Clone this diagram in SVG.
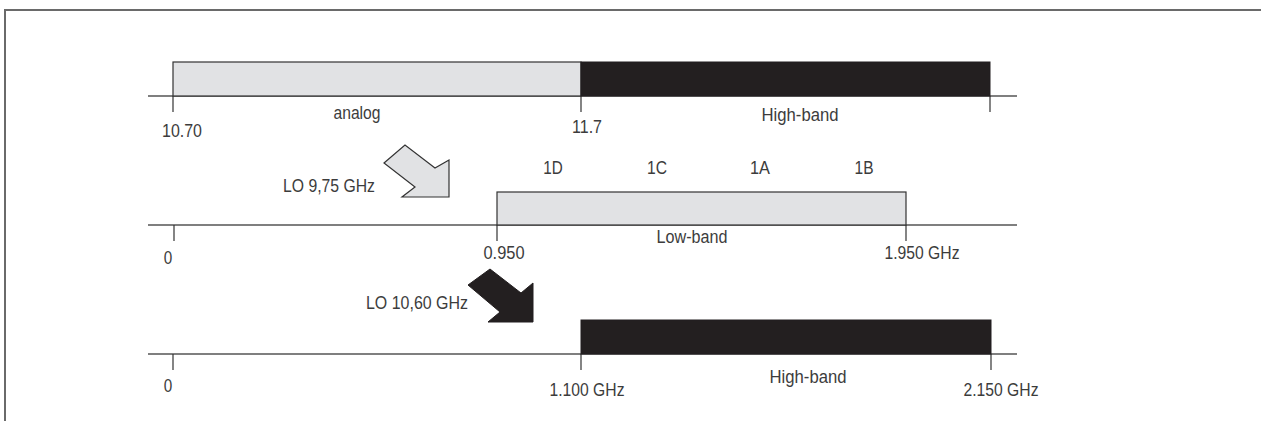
<svg xmlns="http://www.w3.org/2000/svg" width="1261" height="421" viewBox="0 0 1261 421">
  <style>
    text { font-family: "Liberation Sans", Arial, sans-serif; font-size: 17.5px; fill: #3c3c3c; text-anchor: middle; }
    .axis { stroke: #555; stroke-width: 1.5; fill: none; }
    .tick { stroke: #333; stroke-width: 1.2; fill: none; }
    .light { fill: #e1e2e4; stroke: #333; stroke-width: 1.2; }
    .dark { fill: #231f20; stroke: #231f20; stroke-width: 1; }
    .frame { stroke: #6a6a6a; stroke-width: 2; fill: none; }
  </style>
  <rect width="1261" height="421" fill="#ffffff"/>
  <path class="frame" d="M5,421 V10 H1261"/>

  <g id="connectors">
    <line class="axis" x1="148" y1="96" x2="1017" y2="96"/>
    <line class="axis" x1="148" y1="225" x2="1017" y2="225"/>
    <line class="axis" x1="148" y1="354" x2="1017" y2="354"/>
    <line class="tick" x1="173" y1="96" x2="173" y2="112"/>
    <line class="tick" x1="581" y1="96" x2="581" y2="112"/>
    <line class="tick" x1="990" y1="96" x2="990" y2="112"/>
    <line class="tick" x1="174" y1="225" x2="174" y2="241"/>
    <line class="tick" x1="497" y1="225" x2="497" y2="241"/>
    <line class="tick" x1="906" y1="225" x2="906" y2="241"/>
    <line class="tick" x1="173" y1="354" x2="173" y2="370"/>
    <line class="tick" x1="581" y1="354" x2="581" y2="370"/>
    <line class="tick" x1="991" y1="354" x2="991" y2="370"/>
  </g>

  <g id="input-band">
    <rect class="light" x="173" y="62" width="408" height="34"/>
    <rect class="dark" x="581" y="62" width="409" height="34"/>
    <text x="357" y="119" textLength="47" lengthAdjust="spacingAndGlyphs">analog</text>
    <text x="800" y="121" textLength="77" lengthAdjust="spacingAndGlyphs">High-band</text>
    <text x="182" y="137" textLength="40" lengthAdjust="spacingAndGlyphs">10.70</text>
    <text x="587" y="133" textLength="30" lengthAdjust="spacingAndGlyphs">11.7</text>
  </g>

  <g id="lo-low">
    <polygon class="light" points="384,163 405,145 435,168 449,160 449,197 402,197 415,187"/>
    <text x="329" y="192" textLength="92" lengthAdjust="spacingAndGlyphs">LO 9,75 GHz</text>
  </g>

  <g id="low-band">
    <rect class="light" x="497" y="192" width="409" height="33"/>
    <text x="553" y="174" textLength="19.5" lengthAdjust="spacingAndGlyphs">1D</text>
    <text x="657" y="174" textLength="20" lengthAdjust="spacingAndGlyphs">1C</text>
    <text x="760" y="174" textLength="20" lengthAdjust="spacingAndGlyphs">1A</text>
    <text x="864" y="174" textLength="19" lengthAdjust="spacingAndGlyphs">1B</text>
    <text x="692" y="243" textLength="71" lengthAdjust="spacingAndGlyphs">Low-band</text>
    <text x="168" y="264" textLength="8.5" lengthAdjust="spacingAndGlyphs">0</text>
    <text x="504" y="259" textLength="41" lengthAdjust="spacingAndGlyphs">0.950</text>
    <text x="922" y="259" textLength="75" lengthAdjust="spacingAndGlyphs">1.950 GHz</text>
  </g>

  <g id="lo-high">
    <polygon class="dark" points="468,285 490,269 521,293 533,283 533,322 488,322 500,312"/>
    <text x="417" y="309" textLength="102" lengthAdjust="spacingAndGlyphs">LO 10,60 GHz</text>
  </g>

  <g id="high-band">
    <rect class="dark" x="581" y="320" width="410" height="34"/>
    <text x="808" y="383" textLength="77" lengthAdjust="spacingAndGlyphs">High-band</text>
    <text x="168" y="392" textLength="8.5" lengthAdjust="spacingAndGlyphs">0</text>
    <text x="587" y="396" textLength="75" lengthAdjust="spacingAndGlyphs">1.100 GHz</text>
    <text x="1001" y="396" textLength="75" lengthAdjust="spacingAndGlyphs">2.150 GHz</text>
  </g>
</svg>
